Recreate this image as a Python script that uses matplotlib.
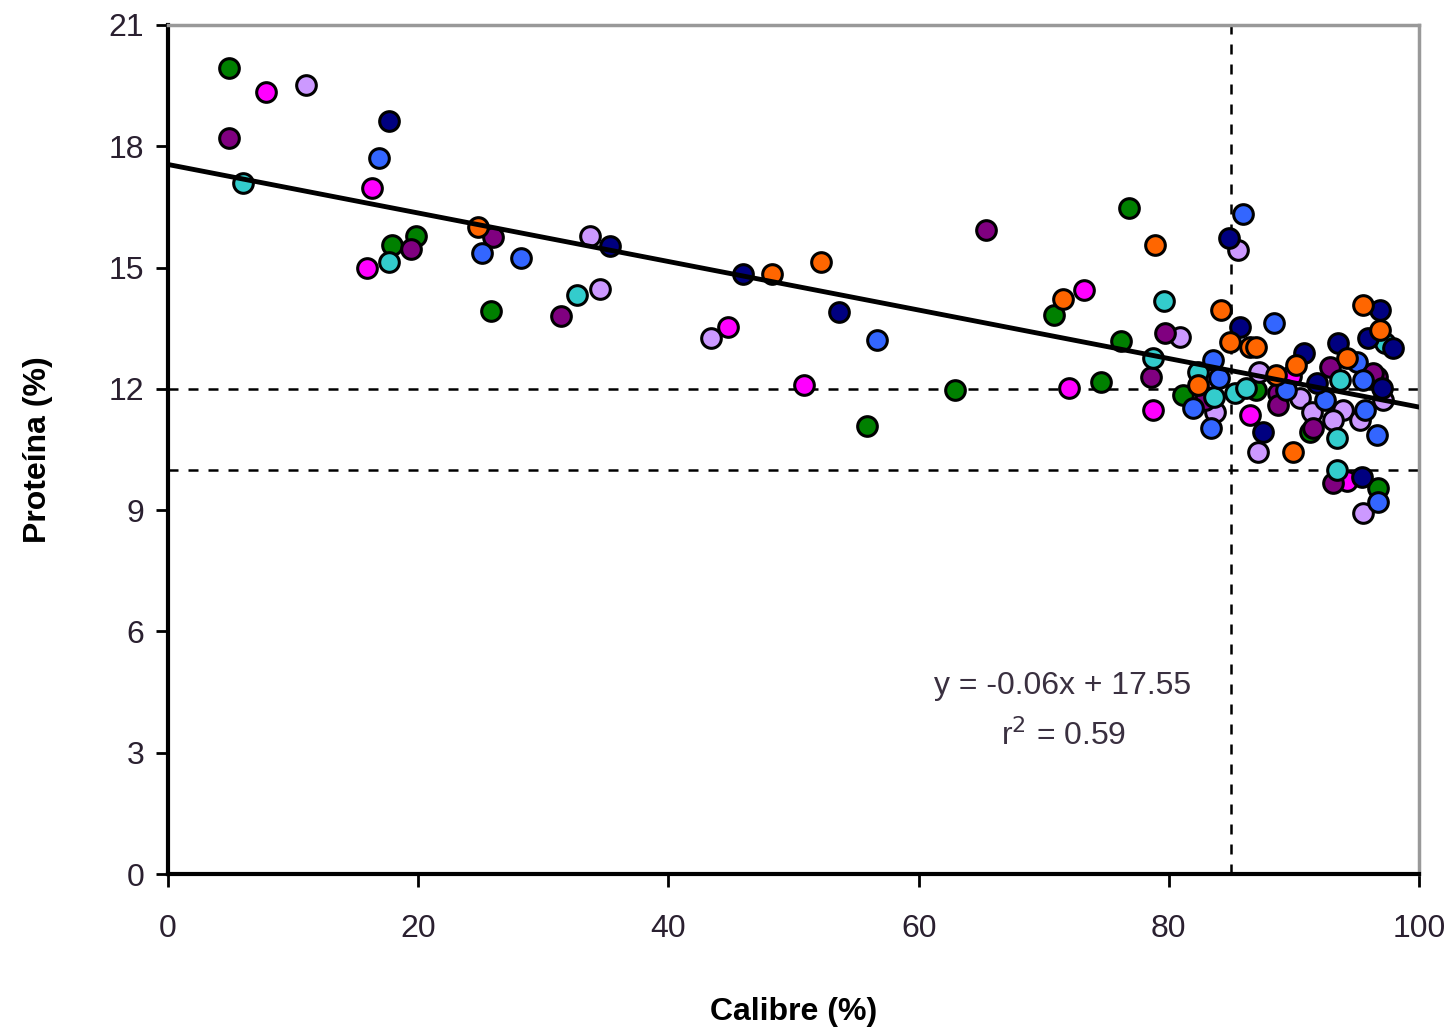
import matplotlib
matplotlib.use("Agg")
import matplotlib.pyplot as plt

plt.rcParams['font.family'] = ['Liberation Sans', 'DejaVu Sans']

# data per series (Calibre %, Proteina %)
green_x = [4.9, 17.9, 19.8, 25.8, 55.9, 62.9, 70.8, 74.6, 76.2, 76.8, 81.1, 91.3, 96.7, 87.0]
green_y = [19.94, 15.56, 15.78, 13.93, 11.08, 11.97, 13.83, 12.17, 13.18, 16.47, 11.85, 10.93, 9.55, 11.97]

magenta_x = [7.8, 16.3, 15.9, 44.8, 50.8, 72.0, 73.2, 78.7, 86.5, 94.2, 89.8]
magenta_y = [19.34, 16.97, 14.99, 13.53, 12.10, 12.02, 14.44, 11.48, 11.35, 9.72, 12.32]

lavender_x = [11.0, 33.7, 34.5, 43.4, 80.9, 85.5, 83.3, 83.7, 87.1, 90.5, 91.4, 93.9, 93.1, 95.3,
              95.5, 87.2, 97.1]
lavender_y = [19.52, 15.78, 14.47, 13.26, 13.28, 15.43, 12.27, 11.43, 10.44, 11.77, 11.43, 11.48,
              11.23, 11.23, 8.93, 12.42, 11.72]

purple_x = [4.9, 19.4, 26.0, 31.4, 65.4, 79.7, 78.6, 82.9, 88.7, 88.7, 92.9, 91.5, 93.1, 96.6, 96.3]
purple_y = [18.20, 15.46, 15.76, 13.80, 15.93, 13.38, 12.29, 11.72, 11.90, 11.60, 12.54, 11.03,
            9.67, 12.29, 12.39]

cyan_x = [6.0, 17.7, 32.7, 79.6, 78.7, 83.6, 85.3, 86.2, 82.3, 93.4, 93.7, 97.3, 93.4]
cyan_y = [17.09, 15.14, 14.32, 14.17, 12.76, 11.80, 11.90, 12.02, 12.42, 10.78, 12.22, 13.13, 9.99]

blue_x = [16.9, 25.1, 28.2, 56.7, 85.9, 88.4, 83.5, 84.0, 81.9, 83.4, 89.4, 92.5, 95.0, 95.5,
          95.7, 96.6, 96.7]
blue_y = [17.71, 15.36, 15.24, 13.21, 16.32, 13.63, 12.71, 12.27, 11.53, 11.03, 11.97, 11.72,
          12.66, 12.22, 11.48, 10.86, 9.20]

navy_x = [17.7, 35.3, 46.0, 53.6, 84.8, 85.7, 87.5, 90.8, 93.5, 96.9, 91.8, 97.0, 95.4, 95.9, 97.9]
navy_y = [18.62, 15.53, 14.84, 13.90, 15.73, 13.53, 10.93, 12.89, 13.13, 13.95, 12.14, 12.02,
          9.82, 13.26, 13.00]

orange_x = [24.8, 48.3, 52.2, 71.5, 78.9, 84.2, 84.9, 86.5, 87.0, 82.3, 89.9, 88.6, 90.2, 95.5,
            96.9, 94.2]
orange_y = [16.0, 14.84, 15.14, 14.22, 15.56, 13.95, 13.16, 13.03, 13.03, 12.10, 10.44, 12.34,
            12.59, 14.07, 13.46, 12.76]

series = [
    (green_x, green_y, '#008000'),
    (magenta_x, magenta_y, '#FF00FF'),
    (lavender_x, lavender_y, '#CC99FF'),
    (purple_x, purple_y, '#800080'),
    (cyan_x, cyan_y, '#33CCCC'),
    (blue_x, blue_y, '#3366FF'),
    (navy_x, navy_y, '#000080'),
    (orange_x, orange_y, '#FF6600'),
]

slope, intercept = -0.06, 17.55
trend_x = [0, 100]
ref_y = [12, 10]
ref_x = 85

fig = plt.figure(figsize=(14.54, 10.32), dpi=100)
ax = fig.add_axes([0.1155, 0.153, 0.8605, 0.8228])

for ry in ref_y:
    ax.axhline(ry, color='black', lw=1.8, ls=(0, (4, 4)), zorder=1)
ax.axvline(ref_x, color='black', lw=1.8, ls=(0, (4, 4)), zorder=1)

for xs, ys, c in series:
    ax.scatter(xs, ys, s=200, color=c, edgecolors='black', linewidths=2.2, zorder=2)

ax.plot(trend_x, [slope * v + intercept for v in trend_x], color='black', lw=3.5, zorder=3)

ax.text(71.5, 4.65, "y = -0.06x + 17.55", ha='center', va='center', fontsize=23, color='#3a3040')
ax.text(71.6, 3.42, "r$^2$ = 0.59", ha='center', va='center', fontsize=23, color='#3a3040')

ax.set_xlim(0, 100)
ax.set_ylim(0, 21)
ax.set_xticks([0, 20, 40, 60, 80, 100])
ax.set_yticks([0, 3, 6, 9, 12, 15, 18, 21])
ax.tick_params(axis='both', direction='out', length=9, width=2, labelsize=23, colors='black',
               labelcolor='#2a2030')
ax.tick_params(axis='x', pad=20)
ax.tick_params(axis='y', pad=8)

for side in ['left', 'bottom']:
    ax.spines[side].set_linewidth(3)
    ax.spines[side].set_color('black')
for side in ['top', 'right']:
    ax.spines[side].set_linewidth(2.5)
    ax.spines[side].set_color('#999999')

ax.set_xlabel("Calibre (%)", fontsize=23, fontweight='bold', labelpad=38)
ax.set_ylabel("Proteína (%)", fontsize=23, fontweight='bold', labelpad=40)

fig.savefig("out.png", dpi=100)
